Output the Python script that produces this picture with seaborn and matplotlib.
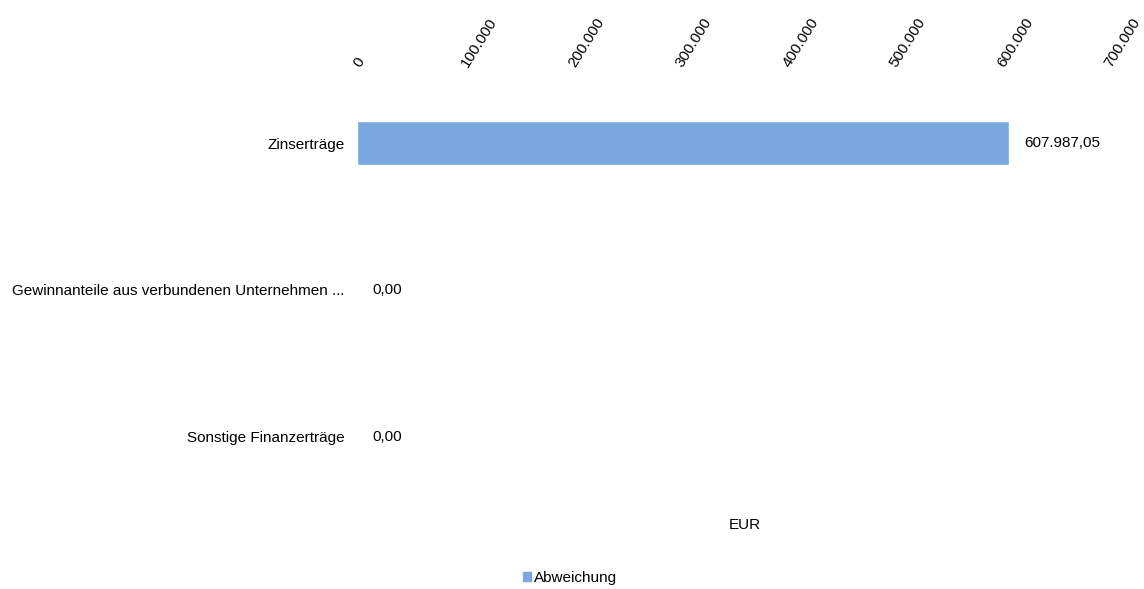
import matplotlib
matplotlib.use("Agg")
import matplotlib.pyplot as plt
import seaborn as sns
import pandas as pd
from matplotlib.ticker import FuncFormatter
from matplotlib.patches import Patch

categories = ["Zinserträge", "Gewinnanteile aus verbundenen Unternehmen ...", "Sonstige Finanzerträge"]
abweichung = [607987.05, 0.0, 0.0]
x_ticks = [0, 100000, 200000, 300000, 400000, 500000, 600000, 700000]

df = pd.DataFrame({"Kategorie": categories, "Abweichung": abweichung})

sns.set_style("white")
plt.rcParams["font.family"] = ["Liberation Sans", "DejaVu Sans"]
plt.rcParams["text.color"] = "black"
plt.rcParams["xtick.color"] = "black"
plt.rcParams["ytick.color"] = "black"

bar_color = "#7ba7df"

fig = plt.figure(figsize=(11.44, 5.89), dpi=100)
ax = fig.add_axes([357 / 1144, 1 - 510 / 589, (1108 - 357) / 1144, 440 / 589])

sns.barplot(data=df, x="Abweichung", y="Kategorie", orient="h", color=bar_color,
            width=0.3, ax=ax, saturation=1)

ax.set_xlim(0, 700000)
ax.set_ylim(2.5, -0.5)
ax.set_xticks(x_ticks)
ax.xaxis.tick_top()
ax.xaxis.set_major_formatter(FuncFormatter(lambda v, p: f"{int(v):,}".replace(",", ".")))
for lbl in ax.get_xticklabels():
    lbl.set_rotation(58)
    lbl.set_ha("left")
    lbl.set_va("center")
    lbl.set_rotation_mode("anchor")
ax.tick_params(axis="x", length=0, pad=3, labelsize=11, labelcolor="black")
ax.tick_params(axis="y", length=0, pad=9, labelsize=11, labelcolor="black")
ax.set_ylabel("")
ax.set_xlabel("")
for s in ax.spines.values():
    s.set_visible(False)

def de_fmt(v):
    s = f"{v:,.2f}"
    return s.replace(",", "X").replace(".", ",").replace("X", ".")

for i, v in enumerate(abweichung):
    ax.annotate(de_fmt(v), xy=(v, i), xytext=(11, 0), textcoords="offset points",
                ha="left", va="center", fontsize=11, color="black")

fig.text(745 / 1144, 1 - 525 / 589, "EUR", ha="center", va="center", fontsize=11, color="black")
fig.legend(handles=[Patch(color=bar_color, label="Abweichung")], loc="center",
           bbox_to_anchor=(570 / 1144, 1 - 578 / 589), frameon=False, fontsize=11,
           handlelength=0.55, handleheight=0.55, handletextpad=0.15)

fig.savefig("out.png", dpi=100)
